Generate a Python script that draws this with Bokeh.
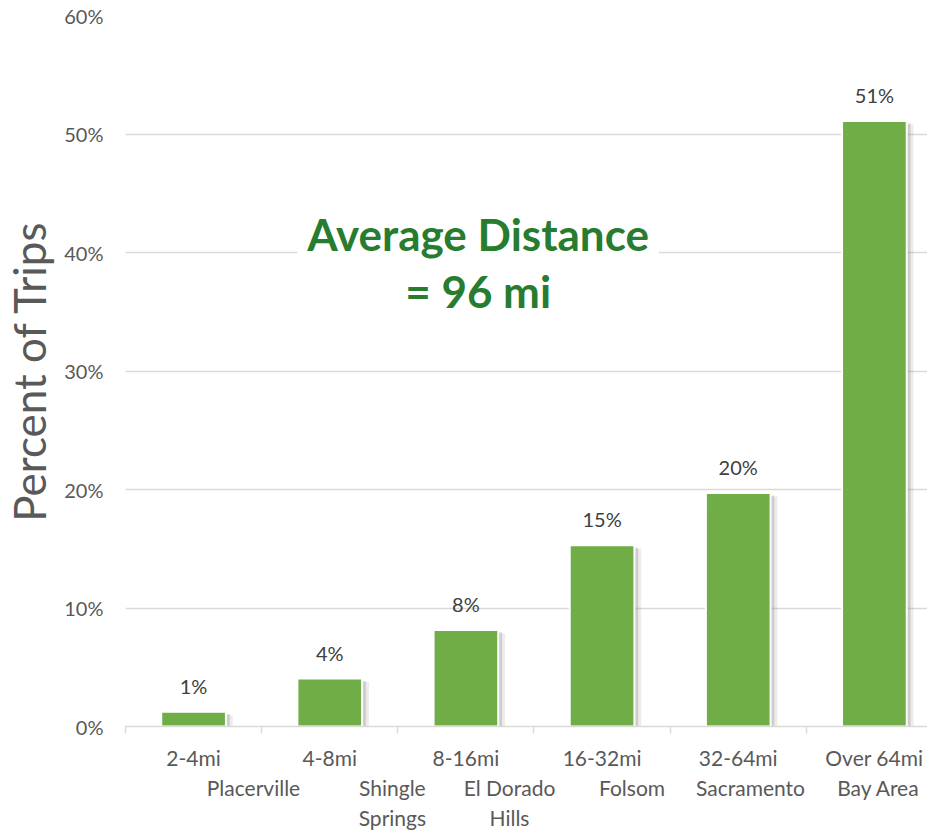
from bokeh.plotting import figure
from bokeh.models import (ColumnDataSource, Range1d, FixedTicker, PrintfTickFormatter, Label,
                          LinearAxis)
from bokeh.transform import dodge
from bokeh.core.properties import value
from bokeh.embed import file_html
from bokeh.resources import INLINE

# ---- data ----
categories = ["2-4mi", "4-8mi", "8-16mi", "16-32mi", "32-64mi", "Over 64mi"]
percent_of_trips = [1.25, 4.05, 8.15, 15.3, 19.7, 51.1]
places = ["Placerville", "Shingle\nSprings", "El Dorado\nHills", "Folsom", "Sacramento", "Bay Area"]
place_x = [0.94, 1.96, 2.82, 3.72, 4.59, 5.53]
y_ticks = [0, 10, 20, 30, 40, 50, 60]
annotation = "Average Distance\n= 96 mi"

FONT = "Lato"
GREEN = "#70AD47"
TXT = "#595959"
GRID = "#d9d9d9"

xc = [i + 0.5 for i in range(len(categories))]
src = ColumnDataSource(dict(
    x=xc,
    top=percent_of_trips,
    label=[f"{round(v)}%" for v in percent_of_trips],
))

p = figure(width=927, height=832, output_backend="svg", toolbar_location=None,
           x_range=Range1d(0, 5.89), y_range=Range1d(0, 60),
           min_border_left=120, min_border_right=0, min_border_top=15, min_border_bottom=106)
p.outline_line_color = None
p.background_fill_color = "white"

# soft shadow
p.vbar(x=dodge("x", 0.05, range=p.x_range), top=dodge("top", -0.3, range=p.y_range), bottom=-0.4,
       width=0.475, fill_color="#7f7f7f", fill_alpha=0.15, line_color=None, source=src)
p.vbar(x=dodge("x", 0.028, range=p.x_range), top=dodge("top", -0.2, range=p.y_range), bottom=-0.25,
       width=0.475, fill_color="#7f7f7f", fill_alpha=0.28, line_color=None, source=src)
# bars
p.vbar(x="x", top="top", bottom=0, width=0.475, fill_color=GREEN, line_color="white",
       line_width=2, source=src)
# data labels
p.text(x="x", y="top", text="label", source=src, text_align="center", text_baseline="bottom",
       y_offset=-14, text_font=value(FONT), text_font_size="20px", text_color="#404040")

# y axis
p.yaxis.ticker = FixedTicker(ticks=y_ticks)
p.yaxis.formatter = PrintfTickFormatter(format="%d%%")
p.yaxis.axis_line_color = None
p.yaxis.major_tick_line_color = None
p.yaxis.major_tick_out = 0
p.yaxis.major_tick_in = 0
p.yaxis.minor_tick_line_color = None
p.yaxis.minor_tick_out = 0
p.yaxis.major_label_text_font = FONT
p.yaxis.major_label_text_font_size = "20px"
p.yaxis.major_label_text_color = TXT
p.yaxis.major_label_standoff = 22
p.yaxis.axis_label = "Percent of Trips"
p.yaxis.axis_label_text_font = FONT
p.yaxis.axis_label_text_font_style = "normal"
p.yaxis.axis_label_text_font_size = "44px"
p.yaxis.axis_label_text_color = TXT
p.yaxis.axis_label_standoff = 6

# x axis (categories, ticks at category boundaries)
p.xaxis.ticker = FixedTicker(ticks=xc, minor_ticks=list(range(len(categories) + 1)))
p.xaxis.major_label_overrides = {x: c for x, c in zip(xc, categories)}
p.xaxis.axis_line_color = GRID
p.xaxis.axis_line_width = 1.5
p.xaxis.major_tick_in = 0
p.xaxis.major_tick_out = 0
p.xaxis.minor_tick_in = 0
p.xaxis.minor_tick_out = 7
p.xaxis.minor_tick_line_color = GRID
p.xaxis.minor_tick_line_width = 1.5
p.xaxis.major_label_text_font = FONT
p.xaxis.major_label_text_font_size = "21px"
p.xaxis.major_label_text_color = TXT
p.xaxis.major_label_standoff = 11

# second axis with place names
pax = LinearAxis(ticker=FixedTicker(ticks=place_x, minor_ticks=[]),
                 major_label_overrides={x: n for x, n in zip(place_x, places)})
pax.axis_line_color = None
pax.major_tick_line_color = None
pax.major_tick_out = 0
pax.major_tick_in = 0
pax.minor_tick_line_color = None
pax.minor_tick_out = 0
pax.major_label_text_font = FONT
pax.major_label_text_font_size = "21px"
pax.major_label_text_color = TXT
pax.major_label_standoff = 2
p.add_layout(pax, "below")

p.xgrid.grid_line_color = None
p.ygrid.ticker = FixedTicker(ticks=y_ticks)
p.ygrid.grid_line_color = GRID
p.ygrid.grid_line_width = 1.5
p.ygrid.level = "underlay"

# annotation
p.add_layout(Label(x=2.59, y=39.15, text=annotation, text_align="center", text_baseline="middle",
                   text_font=FONT, text_font_size="44px", text_font_style="bold",
                   text_color="#277C30", text_line_height=1.1,
                   background_fill_color="white", padding=10))

open("out.html", "w").write(file_html(p, INLINE))
